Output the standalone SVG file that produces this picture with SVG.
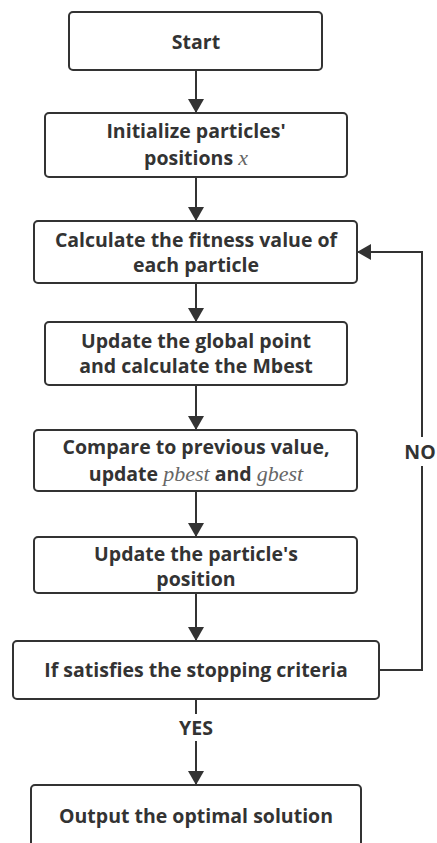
<svg xmlns="http://www.w3.org/2000/svg" width="437" height="843" viewBox="0 0 437 843">
  <style>
    .box { fill: #ffffff; stroke: #333333; stroke-width: 2; }
    .lbl { font-family: "Open Sans", "Noto Sans", sans-serif; font-weight: 700; font-size: 19.5px; fill: #333333; text-anchor: middle; }
    .math { font-family: "Liberation Serif", "DejaVu Serif", serif; font-style: italic; font-weight: 400; font-size: 22px; fill: #666666; }
    .wire { fill: none; stroke: #333333; stroke-width: 2; }
  </style>
  <defs>
    <marker id="arrow" viewBox="0 0 14 18" refX="14" refY="9" markerWidth="14" markerHeight="18" markerUnits="userSpaceOnUse" orient="auto">
      <path d="M0,1 L14,9 L0,17 Z" fill="#333333"/>
    </marker>
  </defs>
  <rect width="437" height="843" fill="#ffffff"/>

  <g id="connectors">
    <line class="wire" x1="196" y1="70" x2="196" y2="113" marker-end="url(#arrow)"/>
    <line class="wire" x1="196" y1="177" x2="196" y2="221" marker-end="url(#arrow)"/>
    <line class="wire" x1="196" y1="283" x2="196" y2="322" marker-end="url(#arrow)"/>
    <line class="wire" x1="196" y1="385" x2="196" y2="430" marker-end="url(#arrow)"/>
    <line class="wire" x1="196" y1="491" x2="196" y2="537" marker-end="url(#arrow)"/>
    <line class="wire" x1="196" y1="593" x2="196" y2="641" marker-end="url(#arrow)"/>
    <!-- YES branch, broken around its label -->
    <line class="wire" x1="196" y1="699" x2="196" y2="714"/>
    <line class="wire" x1="196" y1="741" x2="196" y2="785" marker-end="url(#arrow)"/>
    <!-- NO branch back to the fitness step, broken around its label -->
    <polyline class="wire" points="379,670 422,670 422,466"/>
    <polyline class="wire" points="422,437 422,252 357,252" marker-end="url(#arrow)"/>
    <text class="lbl" x="196" y="735">YES</text>
    <text class="lbl" x="420" y="459">NO</text>
  </g>

  <g id="start">
    <rect class="box" x="69" y="12" width="253" height="58" rx="4"/>
    <text class="lbl" x="196" y="49">Start</text>
  </g>
  <g id="init">
    <rect class="box" x="45" y="113" width="302" height="64" rx="4"/>
    <text class="lbl" x="196" y="138">Initialize particles'</text>
    <text class="lbl" x="196" y="165">positions <tspan class="math">x</tspan></text>
  </g>
  <g id="fitness">
    <rect class="box" x="34" y="221" width="323" height="62" rx="4"/>
    <text class="lbl" x="196" y="247">Calculate the fitness value of</text>
    <text class="lbl" x="196" y="272">each particle</text>
  </g>
  <g id="mbest">
    <rect class="box" x="45" y="322" width="302" height="63" rx="4"/>
    <text class="lbl" x="196" y="348">Update the global point</text>
    <text class="lbl" x="196" y="373">and calculate the Mbest</text>
  </g>
  <g id="compare">
    <rect class="box" x="34" y="430" width="323" height="61" rx="4"/>
    <text class="lbl" x="196" y="454">Compare to previous value,</text>
    <text class="lbl" x="196" y="481">update <tspan class="math">pbest</tspan> and <tspan class="math">gbest</tspan></text>
  </g>
  <g id="position">
    <rect class="box" x="34" y="537" width="323" height="56" rx="4"/>
    <text class="lbl" x="196" y="561">Update the particle's</text>
    <text class="lbl" x="196" y="586">position</text>
  </g>
  <g id="stop-check">
    <rect class="box" x="13" y="641" width="366" height="58" rx="4"/>
    <text class="lbl" x="196" y="677">If satisfies the stopping criteria</text>
  </g>
  <g id="output">
    <rect class="box" x="31" y="785" width="330" height="80" rx="4"/>
    <text class="lbl" x="196" y="823">Output the optimal solution</text>
  </g>
</svg>
